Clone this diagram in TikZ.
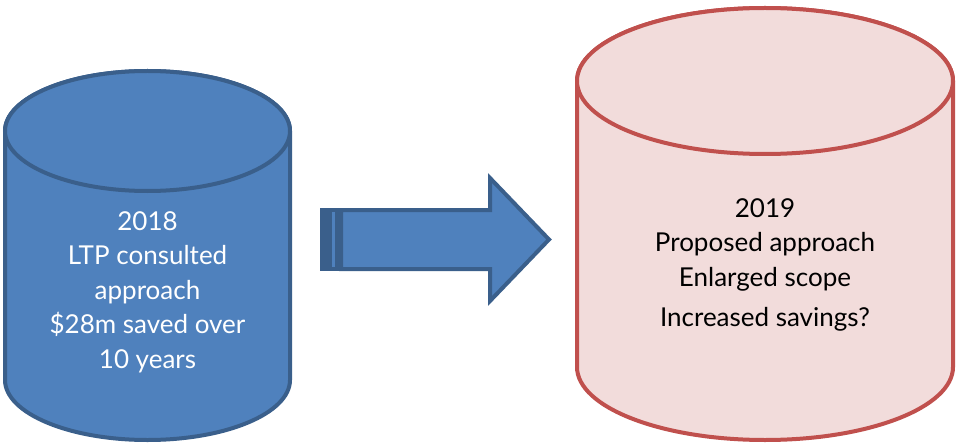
\documentclass[tikz,border=0pt]{standalone}
\usepackage{fontspec}
\setmainfont{Lato}

\definecolor{fillblue}{HTML}{4F81BD}
\definecolor{lineblue}{HTML}{3A5F8B}
\definecolor{fillpink}{HTML}{F2DCDB}
\definecolor{linered}{HTML}{C0504D}

% upright drum: #1 style, #2 centre x, #3 top y, #4 bottom y, #5 x radius, #6 y radius
\newcommand{\drawdrum}[6]{%
    \filldraw[#1] (#2-#5,#3) -- (#2-#5,#4)
        arc[start angle=180, end angle=360, x radius=#5pt, y radius=#6pt]
        -- (#2+#5,#3)
        arc[start angle=0, end angle=180, x radius=#5pt, y radius=#6pt] -- cycle;
    \draw[#1] (#2,#3) ellipse [x radius=#5pt, y radius=#6pt];
}

\begin{document}
\begin{tikzpicture}[x=1pt, y=1pt,
    oldcyl/.style={fill=fillblue, draw=lineblue, line width=4pt},
    newcyl/.style={fill=fillpink, draw=linered, line width=4pt},
    caption/.style={align=center, font=\fontsize{26}{34.5}\selectfont},
    bigarrow/.style={fill=fillblue, draw=lineblue, line width=4pt, line join=miter}
]
    \useasboundingbox (0,0) rectangle (957,445);

    % the two drums
    \drawdrum{oldcyl}{147.5}{314}{65}{142.5}{60}
    \drawdrum{newcyl}{765}{364}{78}{188}{73}

    \node[caption, text=white] (oldtext) at (147.5,153) {2018\\LTP consulted\\approach\\\$28m saved over\\10 years};
    \node[caption] (newtext) at (765,180) {2019\\Proposed approach\\Enlarged scope\\[6pt]Increased savings?};

    % striped block arrow in between
    \foreach \a/\b in {322/326, 330/337} {
        \filldraw[bigarrow] (\a,176) rectangle (\b,235);
    }
    \filldraw[bigarrow] (341,176) -- (341,235) -- (490,235) -- (490,267)
        -- (549,205.5) -- (490,144) -- (490,176) -- cycle;
\end{tikzpicture}
\end{document}
